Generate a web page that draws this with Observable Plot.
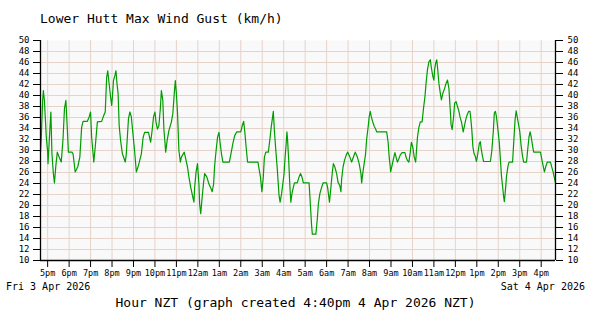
<!DOCTYPE html>
<html>
<head>
<meta charset="utf-8">
<script src="https://cdn.jsdelivr.net/npm/d3@7"></script>
<script src="https://cdn.jsdelivr.net/npm/@observablehq/plot@0.6"></script>
<style>
  html, body { margin: 0; padding: 0; background: #fff; }
  #wrap { position: relative; width: 600px; height: 320px; font-family: "DejaVu Sans Mono", monospace; color: #000; }
  .lbl { position: absolute; white-space: nowrap; line-height: 1; }
</style>
</head>
<body>
<div id="wrap">
  <div class="lbl" id="title" style="left:40px; top:12px; font-size:13px;"></div>
  <div class="lbl" id="dateL" style="left:6px; top:282px; font-size:10px;"></div>
  <div class="lbl" id="dateR" style="right:15px; top:282px; font-size:10px;"></div>
  <div class="lbl" id="xcap" style="left:0; width:591px; text-align:center; top:296px; font-size:13px;"></div>
</div>
<script>
const titleText = "Lower Hutt Max Wind Gust (km/h)";
const startDateLabel = "Fri 3 Apr 2026";
const endDateLabel = "Sat 4 Apr 2026";
const xCaption = "Hour NZT (graph created 4:40pm 4 Apr 2026 NZT)";

// minutes after 4:40pm Fri 3 Apr 2026
const minutes = [
  0,2,6,8,11,16,20,21,25,29,
  32,36,39,43,47,52,58,63,67,71,
  75,78,88,91,97,104,110,115,119,131,
  136,140,143,149,153,159,171,177,181,185,
  188,192,196,199,201,204,208,211,214,217,
  220,224,229,237,240,246,250,254,259,263,
  268,274,282,287,291,302,305,308,312,316,
  320,323,327,331,335,338,342,345,348,350,
  354,359,366,370,375,377,380,383,387,391,
  394,402,405,411,415,420,426,429,431,435,
  439,443,445,448,452,456,459,465,471,476,
  480,484,487,491,495,499,502,506,510,528,
  532,538,543,549,560,564,568,571,575,579,
  608,611,615,619,623,626,630,637,641,645,
  649,651,654,658,662,667,670,674,677,681,
  684,687,689,691,694,697,700,703,707,710,
  718,723,727,731,735,751,755,758,760,770,
  774,777,781,786,790,800,803,808,812,816,
  819,823,828,832,837,840,842,846,850,855,
  859,865,870,876,880,886,891,896,898,901,
  905,909,912,916,919,922,925,929,933,937,
  940,968,972,975,978,979,983,987,991,995,
  998,1002,1006,1011,1019,1022,1026,1030,1034,1037,
  1041,1045,1049,1051,1054,1058,1062,1067,1071,1075,
  1078,1082,1086,1090,1093,1097,1100,1102,1105,1108,
  1111,1114,1118,1121,1125,1130,1134,1138,1142,1146,
  1148,1151,1155,1158,1162,1166,1170,1173,1177,1182,
  1189,1193,1197,1201,1203,1206,1209,1212,1216,1219,
  1223,1227,1230,1232,1236,1239,1258,1262,1266,1269,
  1272,1275,1279,1283,1286,1289,1292,1295,1297,1300,
  1303,1307,1310,1320,1323,1327,1330,1333,1336,1340,
  1344,1348,1351,1359,1362,1366,1369,1372,1376,1379,
  1398,1402,1409,1413,1417,1426,1429,1433,1437,1440
];

// max wind gust, km/h
const gustKmh = [
  29.7,32.0,39.1,40.9,39.1,32.7,29.7,27.6,32.4,37.0,
  29.4,25.8,24.1,27.3,29.7,28.8,27.9,32.1,37.6,39.1,
  33.9,29.7,29.7,29.4,26.1,27.0,28.8,34.2,35.3,35.3,
  36.1,37.0,32.4,27.9,30.6,35.2,35.3,36.4,37.0,43.3,
  44.5,42.1,39.7,38.2,39.7,42.7,43.6,44.5,42.1,40.3,
  34.5,31.8,29.4,27.9,29.4,35.8,37.0,36.1,32.7,30.0,
  26.1,27.3,29.4,32.4,33.3,33.3,32.4,31.5,33.6,36.1,
  37.0,35.2,33.9,34.5,37.6,40.9,39.1,33.9,31.5,29.7,
  31.8,33.6,35.2,36.7,41.2,42.7,40.3,37.0,30.0,27.9,
  28.8,29.7,28.8,27.0,25.2,23.3,21.5,20.6,23.3,26.1,
  27.6,23.9,20.3,18.5,21.5,24.2,25.8,25.2,23.9,23.2,
  22.5,23.9,27.3,30.0,32.4,33.3,31.5,29.4,27.9,27.9,
  29.2,31.3,32.7,33.4,33.4,34.5,35.3,33.6,30.6,27.9,
  27.9,26.7,25.2,22.5,25.2,28.8,29.7,29.7,31.8,34.2,
  36.1,37.1,33.6,30.0,26.7,21.8,20.6,22.1,23.6,25.8,
  28.8,31.3,33.4,31.8,28.2,23.9,20.6,22.1,23.3,24.1,
  24.1,25.2,25.8,25.2,24.1,24.1,19.7,16.4,14.8,14.8,
  17.6,20.3,22.1,23.3,24.1,24.1,23.2,20.6,23.3,26.1,
  27.6,27.0,25.8,24.2,23.6,22.5,24.8,27.0,28.2,29.2,
  29.7,28.8,27.9,29.0,29.7,28.8,27.6,25.8,24.1,25.8,
  27.6,29.4,32.1,34.2,36.1,37.1,36.1,35.2,34.4,33.9,
  33.4,33.4,31.5,28.8,27.0,26.1,27.3,28.5,29.6,28.6,
  27.9,28.5,29.2,29.6,29.6,28.8,28.2,27.9,29.7,31.5,
  30.6,28.8,27.9,29.7,32.4,34.2,35.2,35.2,37.7,39.8,
  42.2,44.7,46.1,46.5,45.0,43.5,42.8,44.7,45.9,46.5,
  44.5,42.2,40.4,39.2,40.4,41.3,42.2,42.8,41.3,37.1,
  34.7,33.8,36.1,38.6,38.9,38.0,37.1,36.1,35.2,33.4,
  35.6,36.5,37.1,37.1,35.9,33.8,30.7,29.5,28.9,28.0,
  29.5,31.3,31.6,30.4,28.9,28.0,28.0,30.0,33.4,36.8,
  37.1,36.1,33.8,31.3,28.3,25.3,23.5,21.6,20.7,22.8,
  25.3,27.1,27.9,27.9,31.3,35.6,37.2,36.1,35.0,33.5,
  30.8,28.9,27.9,27.9,30.0,32.5,33.4,32.5,30.8,29.7,
  29.7,28.3,26.1,27.1,27.9,27.9,27.1,26.2,25.0,24.1
];

const hourLabels = ["5pm","6pm","7pm","8pm","9pm","10pm","11pm","12am","1am","2am","3am","4am",
  "5am","6am","7am","8am","9am","10am","11am","12pm","1pm","2pm","3pm","4pm"];
const hourTickMinutes = [20,80,140,200,260,320,380,440,500,560,620,680,740,800,860,920,980,1040,1100,1160,1220,1280,1340,1400];
const yTicks = [10,12,14,16,18,20,22,24,26,28,30,32,34,36,38,40,42,44,46,48,50];
const yGrid = [12,14,16,18,20,22,24,26,28,30,32,34,36,38,40,42,44,46,48];

const data = minutes.map((m, i) => ({m, v: gustKmh[i]}));

const gridColor = "#e6d3c9";

const chart = Plot.plot({
  width: 600,
  height: 320,
  marginTop: 40,
  marginBottom: 60,
  marginLeft: 40,
  marginRight: 45,
  style: {fontFamily: "DejaVu Sans Mono", fontSize: "9px", background: "transparent", color: "#000", overflow: "visible"},
  x: {type: "linear", domain: [0, 1440]},
  y: {domain: [10, 50]},
  marks: [
    Plot.frame({fill: "#f9f9f9", stroke: null}),
    Plot.gridY(yGrid, {stroke: gridColor, strokeOpacity: 1, strokeWidth: 1}),
    Plot.gridX(hourTickMinutes, {stroke: gridColor, strokeOpacity: 1, strokeWidth: 1}),
    Plot.line(data, {x: "m", y: "v", stroke: "#009c00", strokeWidth: 1.2}),
    Plot.ruleX([0, 1440], {stroke: "#000", strokeWidth: 1.3}),
    Plot.ruleY([10], {stroke: "#000", strokeWidth: 1.3}),
    Plot.axisY(yTicks, {anchor: "left", tickSize: 7, tickPadding: 4, label: null, fontSize: 9}),
    Plot.axisY(yTicks, {anchor: "right", tickSize: 7, tickPadding: 5, label: null, fontSize: 9}),
    Plot.axisX(hourTickMinutes, {anchor: "bottom", tickSize: 7, tickPadding: 2, label: null, fontSize: 8.5,
      tickFormat: (d) => hourLabels[hourTickMinutes.indexOf(d)]})
  ]
});

const wrap = document.getElementById("wrap");
chart.style.position = "absolute";
chart.style.left = "0px";
chart.style.top = "0px";
wrap.insertBefore(chart, wrap.firstChild);

document.getElementById("title").textContent = titleText;
document.getElementById("dateL").textContent = startDateLabel;
document.getElementById("dateR").textContent = endDateLabel;
document.getElementById("xcap").textContent = xCaption;
</script>
</body>
</html>
